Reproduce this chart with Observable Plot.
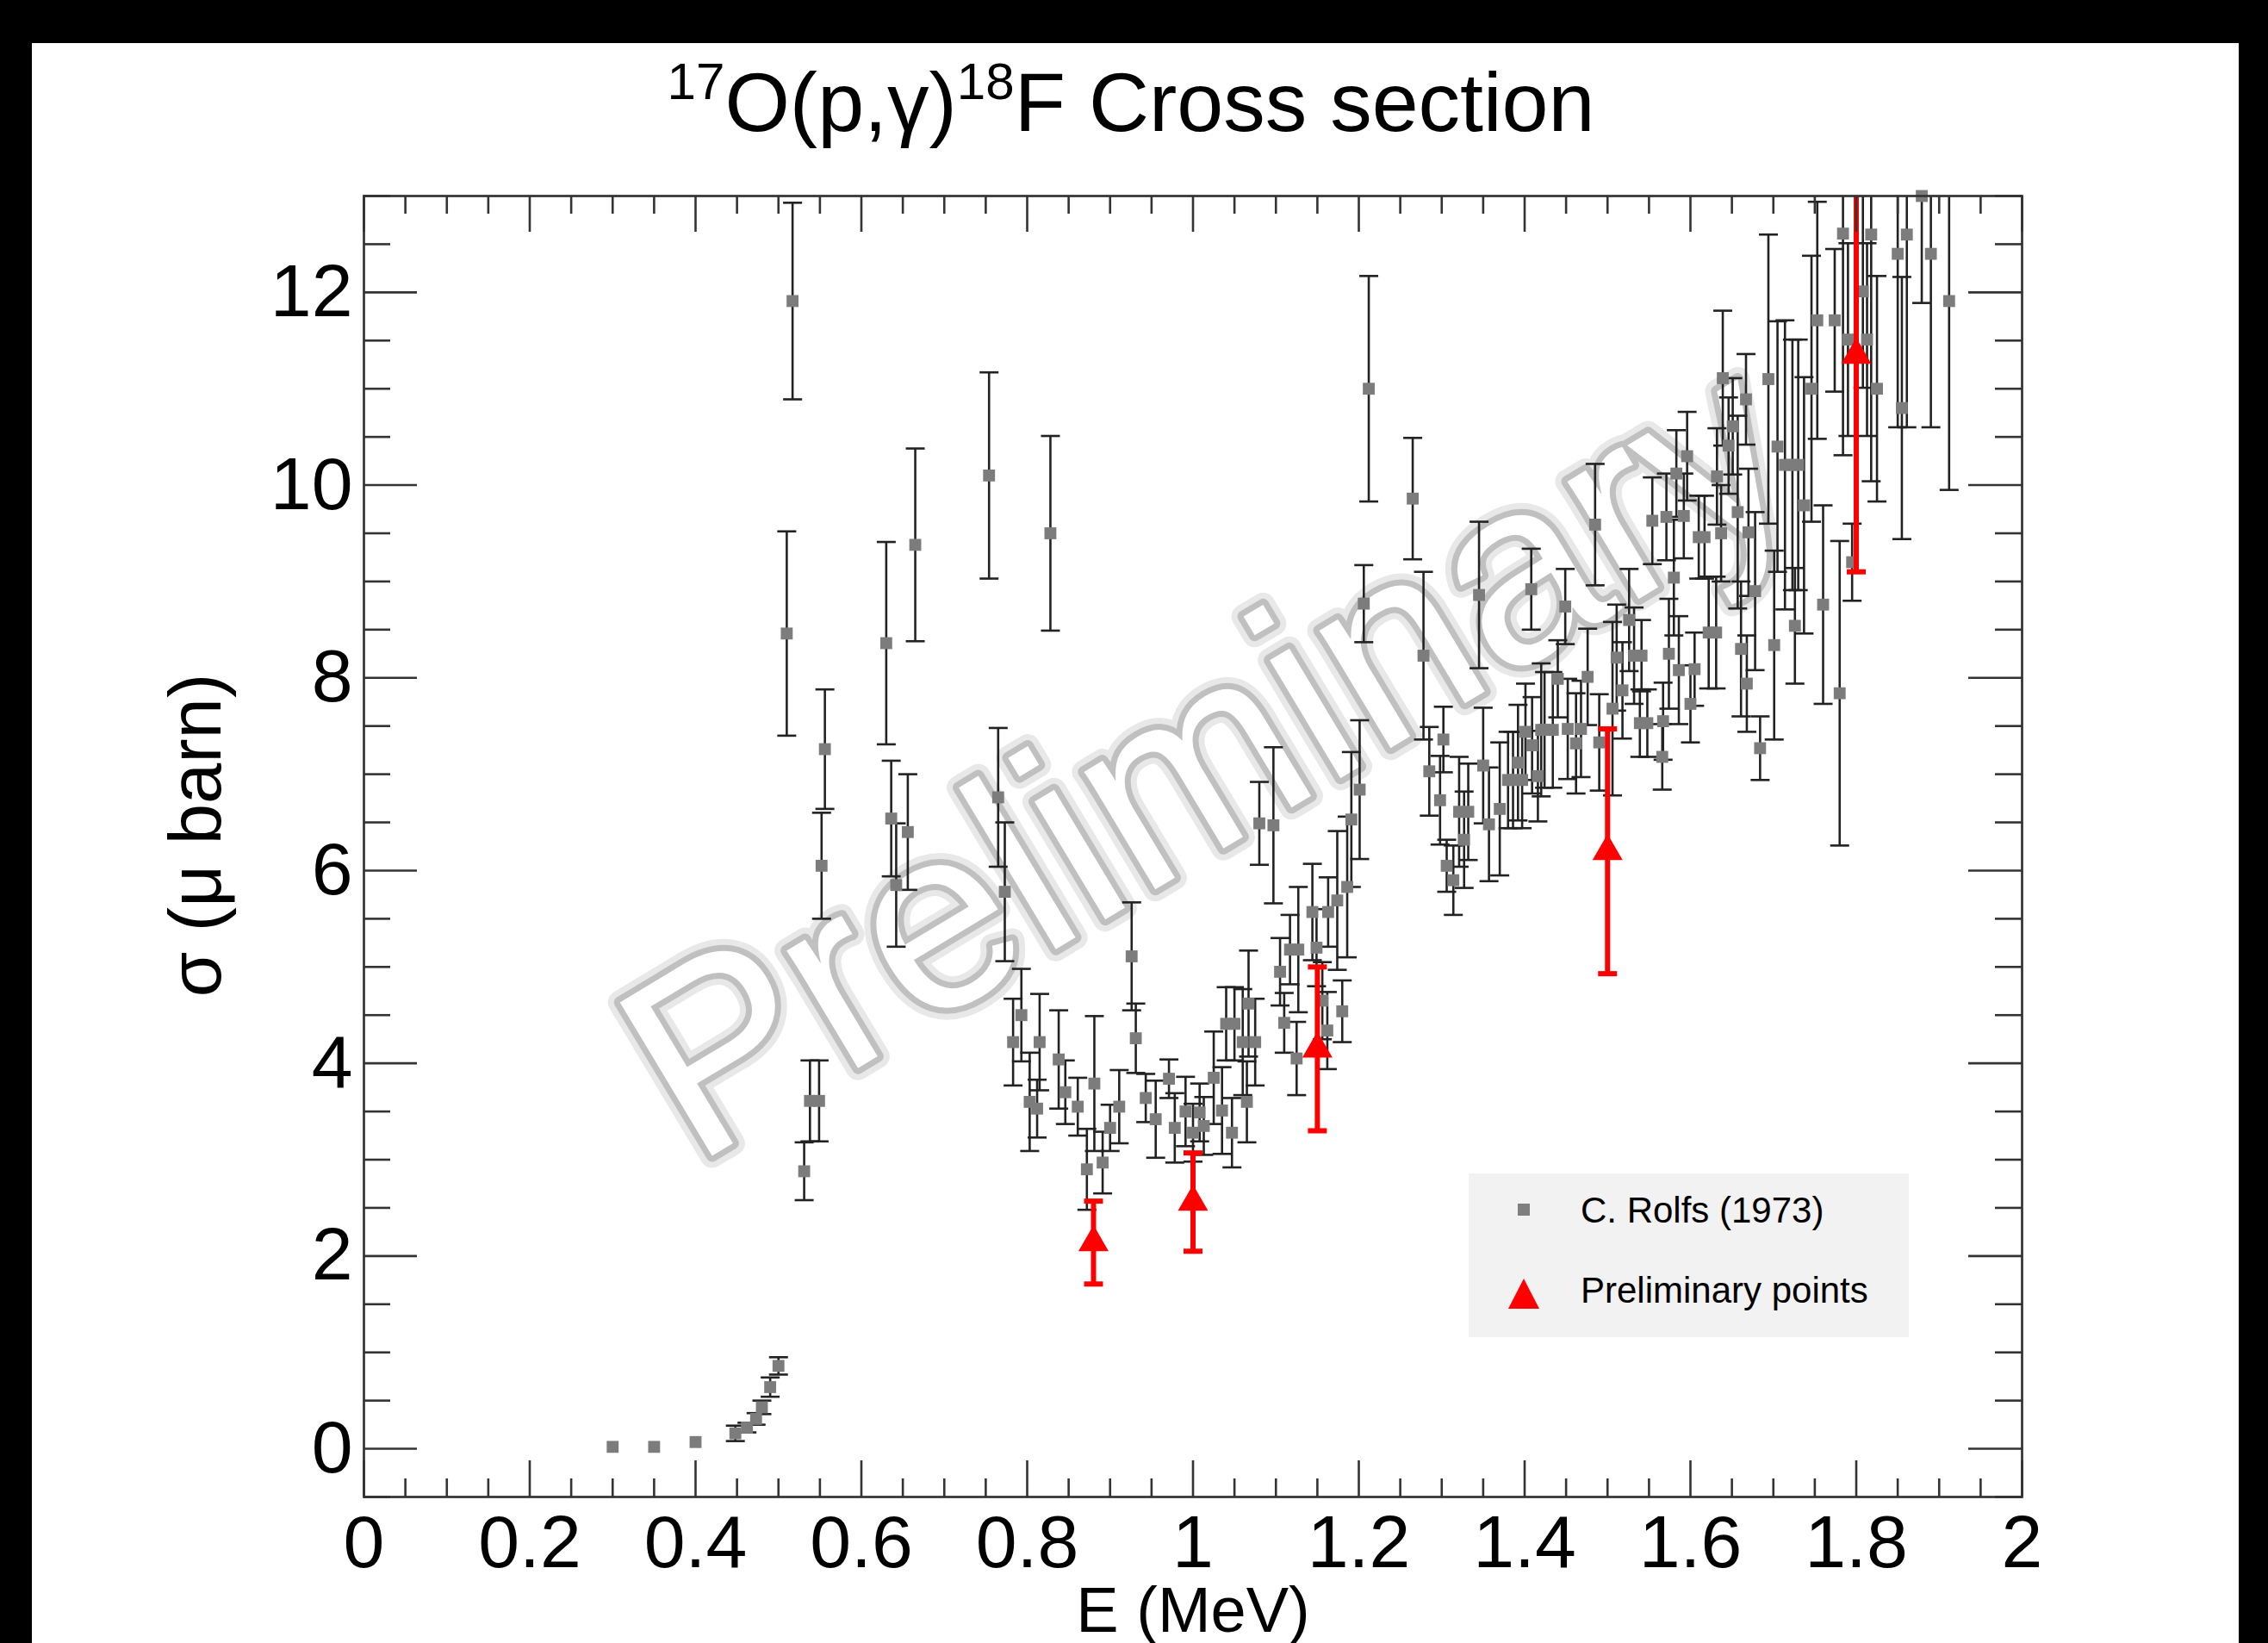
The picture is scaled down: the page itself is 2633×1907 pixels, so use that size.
<!DOCTYPE html>
<html><head><meta charset="utf-8">
<script src="https://cdn.jsdelivr.net/npm/d3@7"></script>
<script src="https://cdn.jsdelivr.net/npm/@observablehq/plot@0.6"></script>
<style>
html,body{margin:0;padding:0;background:#000;width:2633px;height:1907px;overflow:hidden;}
#panel{position:absolute;left:37px;top:50px;width:2562px;height:1857px;background:#fff;}
#chart{position:absolute;left:0;top:0;}
#title{position:absolute;left:0;width:2626px;top:70px;text-align:center;font-family:"Liberation Sans",Arial,sans-serif;font-size:97px;line-height:97px;color:#000;white-space:nowrap;}
#title sup{font-size:0.62em;vertical-align:0.62em;line-height:0;}
#legend{position:absolute;left:1705px;top:1362px;}
</style></head><body>
<div id="panel"></div>
<div id="chart"></div>
<div id="title"><sup>17</sup>O(p,γ)<sup>18</sup>F Cross section</div>
<svg id="legend" width="511" height="190" xmlns="http://www.w3.org/2000/svg" font-family="Liberation Sans, Arial, sans-serif">
  <rect x="0" y="0" width="511" height="190" fill="#f2f2f2"/>
  <rect x="57" y="35" width="14" height="14" fill="#7f7f7f"/>
  <text x="130" y="57" font-size="42" fill="#000">C. Rolfs (1973)</text>
  <polygon points="46,157 82,157 64,122" fill="#ff0000"/>
  <text x="130" y="150" font-size="42" fill="#000">Preliminary points</text>
</svg>
<script>
// ---- C. Rolfs (1973) data: energy (MeV), cross section (μb), error (μb)
const rolfsE = [
  0.300,0.350,0.400,0.448,0.462,0.473,0.480,0.490,0.500,
  0.510,0.517,0.531,0.538,0.549,0.552,0.556,0.630,0.636,0.642,0.656,0.665,
  0.754,0.765,0.773,0.783,0.793,0.803,0.812,0.815,0.828,0.838,0.846,0.861,0.872,0.881,0.891,0.900,0.911,
  0.926,0.931,0.943,0.955,0.971,0.978,0.991,1.000,1.008,1.013,1.025,1.035,1.040,1.047,1.050,1.060,1.065,1.067,1.075,1.080,1.097,
  1.105,1.110,1.117,1.125,1.127,1.144,1.149,1.156,1.162,1.163,1.174,1.180,1.186,1.191,1.201,1.206,1.212,
  1.265,1.278,1.285,1.298,1.302,1.306,1.314,1.321,1.327,1.332,1.345,1.350,1.357,1.370,1.380,1.386,1.392,1.397,1.401,1.408,1.409,1.416,1.420,1.424,1.434,1.440,1.449,1.452,1.462,1.468,1.476,1.485,1.490,
  1.506,1.511,1.518,1.526,1.532,1.539,1.541,1.548,1.554,1.566,1.567,1.571,1.574,1.580,1.583,1.586,1.592,1.596,1.600,1.605,1.610,1.617,1.622,1.631,1.632,1.637,1.639,1.646,1.651,1.657,1.661,1.667,1.668,1.670,1.678,1.684,
  1.694,1.701,1.705,1.714,1.723,1.726,1.730,1.737,1.746,1.753,1.760,1.774,1.780,1.784,1.790,1.795,1.808,1.813,1.818,1.825,1.850,1.855,1.861,1.879,1.890,1.912
];
const rolfsSigma = [
  0.02,0.02,0.07,0.16,0.22,0.31,0.43,0.64,0.86,
  8.46,11.91,2.88,3.61,3.61,6.05,7.26,8.36,6.54,5.85,6.40,9.38,
  10.10,6.76,5.78,4.22,4.50,3.60,3.53,4.22,9.50,4.04,3.70,3.55,2.90,3.79,2.97,3.33,3.55,
  5.11,4.26,3.64,3.42,3.84,3.33,3.50,3.28,3.49,3.35,3.85,3.51,4.41,3.28,4.41,4.22,3.60,4.62,4.22,6.49,6.47,
  4.95,4.42,5.18,4.05,5.18,5.57,5.20,4.65,4.34,5.57,5.69,4.54,5.83,6.53,6.84,8.77,11.00,
  9.86,8.23,7.03,6.73,7.36,6.05,5.90,6.61,6.32,6.61,8.86,7.09,6.48,6.64,6.94,6.94,7.12,6.94,7.44,8.92,7.30,6.98,7.46,7.46,7.46,7.99,8.74,7.47,7.32,7.47,8.01,9.59,7.33,
  7.68,8.21,7.87,8.60,8.23,7.53,8.23,7.53,9.63,7.18,7.55,9.67,8.25,9.04,10.12,8.08,9.68,10.30,7.73,8.09,9.46,9.46,8.47,8.47,10.09,9.50,11.11,10.41,10.61,9.72,8.30,10.89,7.94,9.51,8.90,7.27,
  11.10,8.34,10.40,10.21,10.21,8.54,10.21,9.79,11.00,11.71,8.76,11.71,7.84,12.61,11.51,9.20,12.01,11.51,12.60,11.00,12.40,10.80,12.60,13.00,12.40,11.91
];
const rolfsErr = [
  0,0,0,0.08,0.05,0.06,0.07,0.10,0.09,
  1.06,1.02,0.30,0.42,0.42,0.55,0.62,1.05,0.60,0.64,0.60,1.00,
  1.07,0.72,0.72,0.45,0.48,0.51,0.30,0.50,1.01,0.51,0.33,0.30,0.42,0.70,0.32,0.24,0.38,
  0.56,0.36,0.25,0.40,0.20,0.36,0.36,0.30,0.30,0.30,0.48,0.45,0.38,0.36,0.38,0.55,0.42,0.55,0.45,0.43,0.81,
  0.35,0.31,0.36,0.38,0.65,0.50,0.40,0.40,0.40,0.36,0.72,0.32,0.73,0.70,0.72,0.40,1.17,
  0.63,0.87,0.46,0.46,0.34,0.27,0.36,0.57,0.50,0.50,0.76,0.60,0.59,0.69,0.50,0.50,0.60,0.50,0.50,0.42,0.50,0.47,0.69,0.60,0.60,0.40,0.39,0.52,0.52,0.50,0.50,0.63,0.50,
  0.90,0.55,0.50,0.53,0.50,0.35,0.37,0.35,0.45,0.34,0.40,0.45,0.57,0.60,0.45,0.56,0.44,0.46,0.40,0.38,0.43,0.43,0.58,0.58,0.50,0.50,0.70,0.50,0.50,1.00,0.70,0.47,0.50,0.66,0.82,0.33,
  1.50,0.98,1.30,1.50,1.30,0.60,1.30,1.33,1.38,1.23,1.03,0.74,1.58,2.30,1.00,0.40,1.00,1.00,2.56,1.17,1.80,1.36,2.00,1.11,1.80,1.96
];
// ---- Preliminary points
const prelimE = [0.88, 1.00, 1.15, 1.50, 1.80];
const prelimSigma = [2.14, 2.56, 4.15, 6.20, 11.35];
const prelimErr = [0.43, 0.51, 0.85, 1.27, 2.25];

// ---- ticks
const xTicks = [0, 0.2, 0.4, 0.6, 0.8, 1, 1.2, 1.4, 1.6, 1.8, 2];
const xTickLabels = ["0","0.2","0.4","0.6","0.8","1","1.2","1.4","1.6","1.8","2"];
const yTicks = [0, 2, 4, 6, 8, 10, 12];
const yTickLabels = ["0","2","4","6","8","10","12"];
const xMinor = d3.range(0, 41).map(i => i * 0.05).filter((v, i) => i % 4 !== 0);
const yMinor = d3.range(0, 28).map(i => -0.5 + i * 0.5).filter(v => Math.abs(v % 2) > 1e-9);

const rolfs = rolfsE.map((e, i) => ({e, s: rolfsSigma[i], err: rolfsErr[i]}));
const rolfsBars = rolfs.filter(d => d.err > 0);
const prelim = prelimE.map((e, i) => ({e, s: prelimSigma[i], err: prelimErr[i]}));

const W = 2633, H = 1907;
const L = 422, R = 2347, T = 227, B = 1737;
const FW = R - L, FH = B - T;
const axisColor = "#333";
const cap = {draw(ctx) { ctx.moveTo(-11, 0); ctx.lineTo(11, 0); }};
const wm = {frameAnchor: "middle", text: d => d, rotate: -31, fontSize: 302, dx: 18, dy: -100,
  fill: "white", paintOrder: "stroke", strokeLinejoin: "round"};

const chart = Plot.plot({
  width: W, height: H,
  marginLeft: L, marginRight: W - R, marginTop: T, marginBottom: H - B,
  style: {background: "transparent", fontFamily: "'Liberation Sans', Arial, sans-serif", fontSize: "86px", overflow: "visible"},
  x: {domain: [0, 2]},
  y: {domain: [-0.5, 13]},
  marks: [
    Plot.text(["Preliminary"], {...wm, stroke: "#e8e8e8", strokeWidth: 28}),
    Plot.text(["Preliminary"], {...wm, stroke: "#c0c0c0", strokeWidth: 14}),
    Plot.ruleX(rolfsBars, {x: "e", y1: d => d.s - d.err, y2: d => d.s + d.err, stroke: "#222", strokeWidth: 2.6, clip: true}),
    Plot.dot(rolfsBars, {x: "e", y: d => d.s + d.err, symbol: cap, r: 5, fill: "none", stroke: "#222", strokeWidth: 2.6, clip: true}),
    Plot.dot(rolfsBars, {x: "e", y: d => d.s - d.err, symbol: cap, r: 5, fill: "none", stroke: "#222", strokeWidth: 2.6, clip: true}),
    Plot.dot(rolfs, {x: "e", y: "s", symbol: "square", r: 7.8, fill: "#7c7c7c"}),
    Plot.ruleX(prelim, {x: "e", y1: d => d.s - d.err, y2: d => d.s + d.err, stroke: "#ff0000", strokeWidth: 6, clip: true}),
    Plot.dot(prelim, {x: "e", y: d => d.s + d.err, symbol: cap, r: 5, fill: "none", stroke: "#ff0000", strokeWidth: 6, clip: true}),
    Plot.dot(prelim, {x: "e", y: d => d.s - d.err, symbol: cap, r: 5, fill: "none", stroke: "#ff0000", strokeWidth: 6, clip: true}),
    Plot.dot(prelim, {x: "e", y: "s", symbol: "triangle", r: 13, fill: "#ff0000"}),
    // inward ticks on all four sides
    Plot.ruleX(xTicks, {x: d => d, insetTop: FH - 42, stroke: axisColor, strokeWidth: 2.6}),
    Plot.ruleX(xTicks, {x: d => d, insetBottom: FH - 42, stroke: axisColor, strokeWidth: 2.6}),
    Plot.ruleX(xMinor, {x: d => d, insetTop: FH - 21, stroke: axisColor, strokeWidth: 2.6}),
    Plot.ruleX(xMinor, {x: d => d, insetBottom: FH - 21, stroke: axisColor, strokeWidth: 2.6}),
    Plot.ruleY(yTicks, {y: d => d, insetRight: FW - 62, stroke: axisColor, strokeWidth: 2.6}),
    Plot.ruleY(yTicks, {y: d => d, insetLeft: FW - 62, stroke: axisColor, strokeWidth: 2.6}),
    Plot.ruleY(yMinor, {y: d => d, insetRight: FW - 31, stroke: axisColor, strokeWidth: 2.6}),
    Plot.ruleY(yMinor, {y: d => d, insetLeft: FW - 31, stroke: axisColor, strokeWidth: 2.6}),
    Plot.frame({stroke: axisColor, strokeWidth: 2.7}),
    Plot.axisX({ticks: xTicks, tickSize: 0, tickPadding: 20, tickFormat: d => xTickLabels[xTicks.indexOf(d)], fontSize: 86, label: null}),
    Plot.axisY({ticks: yTicks, tickSize: 0, tickPadding: 13, tickFormat: d => yTickLabels[yTicks.indexOf(d)], fontSize: 86, label: null}),
    Plot.text(["E (MeV)"], {frameAnchor: "bottom", text: d => d, textAnchor: "middle", lineAnchor: "top", dy: 104, fontSize: 74}),
    Plot.text(["σ (μ barn)"], {frameAnchor: "left", text: d => d, textAnchor: "middle", rotate: -90, dx: -194, dy: -13, fontSize: 85})
  ]
});
document.getElementById("chart").appendChild(chart);
</script>
</body></html>
